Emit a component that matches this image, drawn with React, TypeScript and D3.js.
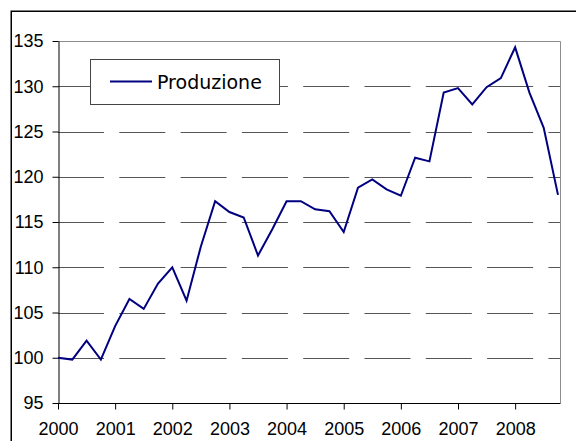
import React, { useEffect, useRef } from 'react';
import * as d3 from 'd3';

const width = 576;
const height = 441;

// one label per year, data is quarterly (Q1 2000 .. Q4 2008)
const years = ['2000', '2001', '2002', '2003', '2004', '2005', '2006', '2007', '2008'];
const produzione = [
  100.0, 99.8, 101.9, 99.8,
  103.5, 106.5, 105.4, 108.2,
  110.0, 106.3, 112.3, 117.3,
  116.1, 115.5, 111.3, 114.2,
  117.3, 117.3, 116.4, 116.2,
  113.9, 118.8, 119.7, 118.6,
  117.9, 122.1, 121.7, 129.3,
  129.8, 128.0, 129.9, 130.9,
  134.3, 129.3, 125.4, 118.0,
];
const yTicks = [95, 100, 105, 110, 115, 120, 125, 130, 135];
const seriesName = 'Produzione';

const margin = { top: 41, right: 16, bottom: 38, left: 58 };
const axisFont = 'Liberation Sans, Arial, sans-serif';

const App = () => {
  const ref = useRef<SVGSVGElement>(null);

  useEffect(() => {
    const svg = d3.select(ref.current);
    svg.selectAll('*').remove();

    const plotRight = width - margin.right;
    const plotBottom = height - margin.bottom;

    const x = d3.scalePoint<number>()
      .domain(d3.range(produzione.length))
      .range([margin.left, plotRight - 2]);
    const y = d3.scaleLinear().domain([95, 135]).range([plotBottom, margin.top]);

    svg.append('rect')
      .attr('width', width).attr('height', height).attr('fill', 'white');

    // outer chart frame, runs off the picture on the right and bottom
    svg.append('rect')
      .attr('x', 11.25).attr('y', 11.25)
      .attr('width', 700).attr('height', 600)
      .attr('fill', 'none').attr('stroke', 'black').attr('stroke-width', 1.5);

    // plot area border (top/right, gray)
    svg.append('path')
      .attr('d', `M${margin.left},${margin.top + 0.5}H${plotRight + 0.5}V${plotBottom}`)
      .attr('fill', 'none').attr('stroke', '#8c8c8c').attr('stroke-width', 1);

    // dashed gridlines
    svg.append('g')
      .selectAll('line')
      .data(yTicks.filter(t => t > 95 && t < 135))
      .join('line')
      .attr('x1', margin.left).attr('x2', plotRight)
      .attr('y1', d => Math.round(y(d)) + 0.5).attr('y2', d => Math.round(y(d)) + 0.5)
      .attr('stroke', '#555').attr('stroke-width', 1)
      .attr('stroke-dasharray', '46,15.3');

    const yAxis = svg.append('g')
      .attr('transform', `translate(${margin.left + 0.5},0)`)
      .call(d3.axisLeft(y).tickValues(yTicks).tickSize(6).tickPadding(9).tickSizeOuter(0));
    const xAxis = svg.append('g')
      .attr('transform', `translate(0,${plotBottom + 0.5})`)
      .call(d3.axisBottom(x)
        .tickValues(years.map((_, i) => i * 4))
        .tickFormat((d) => years[d / 4])
        .tickSize(6).tickPadding(13).tickSizeOuter(0));

    // extend bottom axis to right border
    xAxis.select('.domain').attr('d', `M${margin.left},0H${plotRight + 0.5}`);

    [yAxis, xAxis].forEach(g => {
      g.attr('font-family', axisFont).attr('font-size', 18);
      g.selectAll('text').attr('fill', 'black');
      g.selectAll('line, path').attr('stroke', 'black');
    });

    const line = d3.line<number>()
      .x((_, i) => x(i)!)
      .y(d => y(d));

    svg.append('path')
      .datum(produzione)
      .attr('d', line)
      .attr('fill', 'none')
      .attr('stroke', '#000080')
      .attr('stroke-width', 2)
      .attr('stroke-linejoin', 'miter');

    // legend
    const legend = svg.append('g');
    legend.append('rect')
      .attr('x', 90.5).attr('y', 59.5).attr('width', 189).attr('height', 45)
      .attr('fill', 'white').attr('stroke', '#444').attr('stroke-width', 1);
    legend.append('line')
      .attr('x1', 110).attr('x2', 152).attr('y1', 81.5).attr('y2', 81.5)
      .attr('stroke', '#000080').attr('stroke-width', 2);
    legend.append('text')
      .attr('x', 157).attr('y', 88.5)
      .attr('font-family', 'DejaVu Sans, Verdana, sans-serif')
      .attr('font-size', 19)
      .attr('fill', 'black')
      .text(seriesName);
  }, []);

  return (
    <svg ref={ref} width={width} height={height}
      style={{ position: 'absolute', left: 0, top: 0 }} />
  );
};

export default App;
